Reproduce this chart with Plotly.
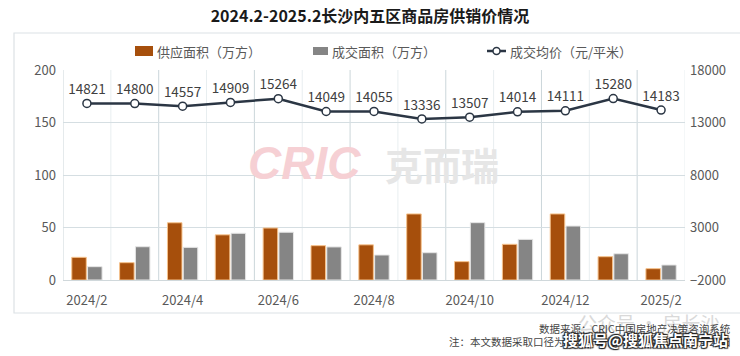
import plotly.graph_objects as go

months = ["2024/2", "2024/3", "2024/4", "2024/5", "2024/6", "2024/7", "2024/8",
          "2024/9", "2024/10", "2024/11", "2024/12", "2025/1", "2025/2"]
supply = [21.6, 16.5, 54.5, 43, 49.5, 32.7, 33.5, 62.9, 17.5, 34, 62.9, 22.2, 10.8]
sales = [12.7, 31.7, 31.1, 44.5, 45.5, 31.5, 23.8, 26, 54.6, 38.7, 51.4, 25, 14.3]
price = [14821, 14800, 14557, 14909, 15264, 14049, 14055, 13336, 13507, 14014, 14111, 15280, 14183]
tick_labels = ["2024/2", "2024/4", "2024/6", "2024/8", "2024/10", "2024/12", "2025/2"]
series_names = ["供应面积（万方）", "成交面积（万方）", "成交均价（元/平米）"]

W, H = 740, 356
L, R, T, B = 63, 55, 70, 76
PW, PH = W - L - R, H - T - B
def px(x):
    return (x - L) / PW
def py(y):
    return (H - B - y) / PH

FONT = "Noto Sans CJK SC"
C_SUP, C_SAL, C_LINE = "#A64F0C", "#858585", "#2B3644"
xs = list(range(len(months)))

fig = go.Figure()
fig.add_trace(go.Bar(x=xs, y=supply, name=series_names[0],
                     marker=dict(color=C_SUP, line=dict(color="#F6C28C", width=1))))
fig.add_trace(go.Bar(x=xs, y=sales, name=series_names[1],
                     marker=dict(color=C_SAL, line=dict(color="#E6E6E6", width=1))))
fig.add_trace(go.Scatter(x=xs, y=price, name=series_names[2], yaxis="y2",
                         mode="lines+markers+text", text=[str(v) for v in price],
                         textposition="top center",
                         textfont=dict(size=13.5, color="#404040", family=FONT),
                         line=dict(color=C_LINE, width=2.5),
                         marker=dict(size=8, color="white", line=dict(color=C_LINE, width=1.5))))

shapes = []
# outer box
shapes.append(dict(type="rect", xref="paper", yref="paper", x0=px(14), x1=px(760),
                   y0=py(313), y1=py(33), line=dict(color="#DCE2E5", width=1.2), layer="below"))
# vertical category boundary lines
for i in range(len(months) + 1):
    b = i - 0.5
    dark = (i % 2 == 0)
    shapes.append(dict(type="line", xref="x", yref="paper", x0=b, x1=b, y0=0, y1=1,
                       line=dict(color="#CBD6DA" if dark else "#E8EEF0", width=1), layer="below"))

# manual legend
LY = 51
shapes.append(dict(type="rect", xref="paper", yref="paper", x0=px(135), x1=px(153),
                   y0=py(LY + 5), y1=py(LY - 5), fillcolor=C_SUP, line=dict(width=0)))
shapes.append(dict(type="rect", xref="paper", yref="paper", x0=px(313), x1=px(328),
                   y0=py(LY + 4), y1=py(LY - 4), fillcolor=C_SAL, line=dict(width=0)))
shapes.append(dict(type="line", xref="paper", yref="paper", x0=px(487), x1=px(506),
                   y0=py(LY), y1=py(LY), line=dict(color=C_LINE, width=2.5)))
shapes.append(dict(type="circle", xref="paper", yref="paper", x0=px(493), x1=px(500),
                   y0=py(LY + 3.5), y1=py(LY - 3.5), fillcolor="white",
                   line=dict(color=C_LINE, width=1.5)))

legend_x = [155, 330, 508]
annotations = [
    dict(text=series_names[k], x=px(legend_x[k]), y=py(LY), xref="paper", yref="paper",
         xanchor="left", yanchor="middle", showarrow=False,
         font=dict(size=13, color="#595959", family=FONT))
    for k in range(3)
]
annotations += [
    dict(text="<i><b>CRIC</b></i>", x=px(304), y=py(163), xref="paper", yref="paper",
         xanchor="center", yanchor="middle",
         showarrow=False, font=dict(size=46, color="#F6D0D4", family="Liberation Sans")),
    dict(text="<b>克而瑞</b>", x=px(442), y=py(163), xref="paper", yref="paper",
         xanchor="center", yanchor="middle",
         showarrow=False, font=dict(size=38, color="#E6E6E6", family=FONT)),
    dict(text="公众号 · 房长沙", x=px(722), y=py(322), xref="paper", yref="paper",
         xanchor="right", yanchor="middle", showarrow=False,
         font=dict(size=19, color="#D9D9D9", family=FONT)),
    dict(text="数据来源：CRIC中国房地产决策咨询系统", x=px(733), y=py(328), xref="paper", yref="paper",
         xanchor="right", yanchor="middle", showarrow=False,
         font=dict(size=10.5, color="#444444", family=FONT)),
    dict(text="注：本文数据采取口径为住宅，统计时间截至2025年2月28日", x=px(733), y=py(341),
         xref="paper", yref="paper", xanchor="right", yanchor="middle", showarrow=False,
         font=dict(size=10.5, color="#444444", family=FONT)),
    dict(text="<b>搜狐号@搜狐焦点南宁站</b>", x=px(730), y=py(339), xref="paper", yref="paper",
         xanchor="right", yanchor="middle", showarrow=False,
         font=dict(size=15, color="white", family=FONT,
                   shadow="1px 1px 1px #222, -1px -1px 1px #222, 1px -1px 1px #222, -1px 1px 1px #222")),
]

fig.update_layout(
    width=W, height=H, margin=dict(l=L, r=R, t=T, b=B, autoexpand=False),
    paper_bgcolor="white", plot_bgcolor="white",
    font=dict(family=FONT, color="#595959", size=13),
    title=dict(text="<b>2024.2-2025.2长沙内五区商品房供销价情况</b>", x=0.5, xref="container",
               xanchor="center", y=1 - 16 / H, yanchor="middle",
               font=dict(size=16, color="#1A1A1A", family=FONT)),
    barmode="group", bargap=0.34, bargroupgap=0.08,
    showlegend=False,
    xaxis=dict(range=[-0.5, len(months) - 0.5], tickmode="array",
               tickvals=[months.index(t) for t in tick_labels], ticktext=tick_labels,
               showgrid=False, zeroline=False, showline=True, linecolor="#D0D8DB",
               ticks="", ticklabelstandoff=8, tickfont=dict(size=13, color="#595959"),
               automargin=False),
    yaxis=dict(range=[0, 200], dtick=50, showgrid=True, gridcolor="#D5DEE2", gridwidth=1,
               zeroline=False, ticks="", ticklabelstandoff=6,
               tickfont=dict(size=13, color="#595959"), automargin=False),
    yaxis2=dict(range=[-2000, 18000], tick0=-2000, dtick=5000, tickformat="d",
                overlaying="y", side="right", ticklabelstandoff=4,
                showgrid=False, zeroline=False, ticks="", tickfont=dict(size=13, color="#595959"),
                automargin=False),
    shapes=shapes, annotations=annotations,
)

fig.write_html("out.html", config={"displayModeBar": False},
               post_script="document.body.style.margin='0';document.body.style.padding='0';")
